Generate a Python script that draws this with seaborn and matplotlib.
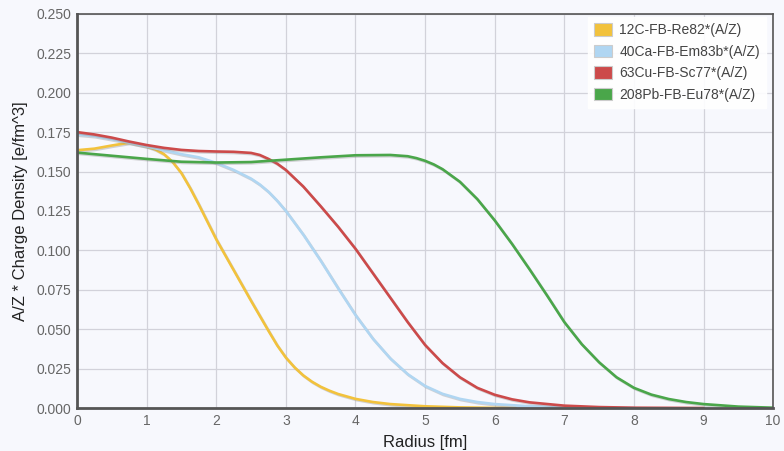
import numpy as np
import pandas as pd
import matplotlib
matplotlib.use("Agg")
import matplotlib.pyplot as plt
import matplotlib.patheffects as pe
from matplotlib.ticker import FormatStrFormatter
import seaborn as sns

# values
r_c12 = [0, 0.25, 0.5, 0.75, 1.0, 1.125, 1.25, 1.375, 1.5, 1.625, 1.75, 1.875,
         2.0, 2.25, 2.5, 2.75, 2.875, 3.0, 3.125, 3.25, 3.375, 3.5, 3.625,
         3.75, 4.0, 4.25, 4.5, 5.0, 5.5, 6.0, 6.3]
rho_c12 = [0.1635, 0.1645, 0.1665, 0.1683, 0.166, 0.164, 0.161, 0.156, 0.149,
           0.1395, 0.129, 0.118, 0.107, 0.0875, 0.068, 0.049, 0.0398, 0.032,
           0.0258, 0.0207, 0.0167, 0.0135, 0.011, 0.0089, 0.0058, 0.0038,
           0.0025, 0.0011, 0.0004, 0.0001, 0.0]

r_ca40 = [0, 0.25, 0.5, 0.75, 1.0, 1.25, 1.5, 1.75, 2.0, 2.25, 2.5, 2.625,
          2.75, 2.875, 3.0, 3.25, 3.5, 3.75, 4.0, 4.25, 4.5, 4.75, 5.0, 5.25,
          5.5, 5.75, 6.0, 6.5, 7.0, 7.5, 8.0]
rho_ca40 = [0.1735, 0.1725, 0.1705, 0.1683, 0.166, 0.1635, 0.161, 0.159,
            0.1555, 0.151, 0.1455, 0.1418, 0.1372, 0.1315, 0.125, 0.110, 0.0935,
            0.076, 0.059, 0.044, 0.0315, 0.0215, 0.014, 0.009, 0.0058, 0.0038,
            0.0025, 0.0011, 0.0004, 0.0001, 0.0]

r_cu63 = [0, 0.25, 0.5, 0.75, 1.0, 1.25, 1.5, 1.75, 2.0, 2.25, 2.5, 2.625,
          2.75, 2.875, 3.0, 3.25, 3.5, 3.75, 4.0, 4.25, 4.5, 4.75, 5.0, 5.25,
          5.5, 5.75, 6.0, 6.25, 6.5, 7.0, 7.5, 8.0, 9.0]
rho_cu63 = [0.175, 0.1735, 0.1715, 0.169, 0.1668, 0.165, 0.1637, 0.163,
            0.1627, 0.1625, 0.1618, 0.1605, 0.158, 0.155, 0.151, 0.1405, 0.128,
            0.115, 0.101, 0.0855, 0.070, 0.0545, 0.040, 0.0285, 0.0195, 0.0128,
            0.0084, 0.0055, 0.0036, 0.0015, 0.0006, 0.0002, 0.0]

r_pb208 = [0, 0.5, 1.0, 1.5, 2.0, 2.5, 3.0, 3.5, 4.0, 4.5, 4.75, 4.875, 5.0,
           5.125, 5.25, 5.5, 5.75, 6.0, 6.25, 6.5, 6.75, 7.0, 7.25, 7.5, 7.75,
           8.0, 8.25, 8.5, 8.75, 9.0, 9.5, 10.0]
rho_pb208 = [0.162, 0.160, 0.158, 0.1562, 0.1557, 0.156, 0.1575, 0.159, 0.1603,
             0.1605, 0.1597, 0.1585, 0.1568, 0.1545, 0.1515, 0.1435, 0.1325,
             0.119, 0.104, 0.088, 0.0715, 0.0545, 0.0405, 0.029, 0.0195,
             0.0128, 0.0085, 0.0057, 0.0038, 0.0025, 0.0009, 0.0002]

labels = ["12C-FB-Re82*(A/Z)", "40Ca-FB-Em83b*(A/Z)",
          "63Cu-FB-Sc77*(A/Z)", "208Pb-FB-Eu78*(A/Z)"]
colors = ["#f2c23c", "#b0d6f2", "#cc4a4a", "#4aa64a"]

frames = []
for lab, rr, vv in zip(labels, [r_c12, r_ca40, r_cu63, r_pb208],
                       [rho_c12, rho_ca40, rho_cu63, rho_pb208]):
    frames.append(pd.DataFrame({"r": rr, "rho": vv, "series": lab}))
df = pd.concat(frames, ignore_index=True)

sns.set_style("whitegrid")
plt.rcParams["font.family"] = ["Liberation Sans", "DejaVu Sans"]

bg = "#f7f8fd"
fig = plt.figure(figsize=(7.84, 4.51), dpi=100, facecolor=bg)
ax = fig.add_axes([0.0982, 0.0953, 0.888, 0.874])
ax.set_facecolor(bg)

sns.lineplot(data=df, x="r", y="rho", hue="series", hue_order=labels,
             palette=colors, linewidth=1.9, ax=ax, legend=False, sort=False)
for ln in ax.get_lines():
    ln.set_solid_joinstyle("round")
    ln.set_path_effects([pe.SimpleLineShadow(offset=(0.8, -0.9),
                                             shadow_color="#888888", alpha=0.35),
                         pe.Normal()])

ax.set_xlim(0, 10)
ax.set_ylim(0, 0.25)
ax.set_xticks(range(0, 11))
ax.set_yticks(np.arange(0, 0.2501, 0.025))
ax.yaxis.set_major_formatter(FormatStrFormatter("%.3f"))
ax.tick_params(axis="both", length=0, labelsize=10, labelcolor="#666666", pad=4)
ax.grid(True, color="#d2d2da", linewidth=0.9)
ax.set_axisbelow(True)
for side, sp in ax.spines.items():
    sp.set_visible(True)
    sp.set_color("#555555")
    sp.set_linewidth(2.0 if side in ("left", "bottom") else 1.2)

ax.set_xlabel("Radius [fm]", fontsize=12, color="#222222", labelpad=5)
ax.set_ylabel("A/Z * Charge Density [e/fm^3]", fontsize=12, color="#222222",
              labelpad=6)

handles = [plt.Rectangle((0, 0), 1, 1, facecolor=c, edgecolor="#cccccc",
                         linewidth=0.8) for c in colors]
leg = ax.legend(handles, labels, loc="upper right", fontsize=10,
                frameon=True, facecolor="white", edgecolor="white",
                framealpha=0.9, fancybox=False, handlelength=1.3,
                handleheight=1.0, handletextpad=0.5, labelspacing=0.55,
                borderpad=0.45, bbox_to_anchor=(1.0, 1.01))
for t in leg.get_texts():
    t.set_color("#444444")

fig.savefig("out.png", dpi=100, facecolor=bg)
